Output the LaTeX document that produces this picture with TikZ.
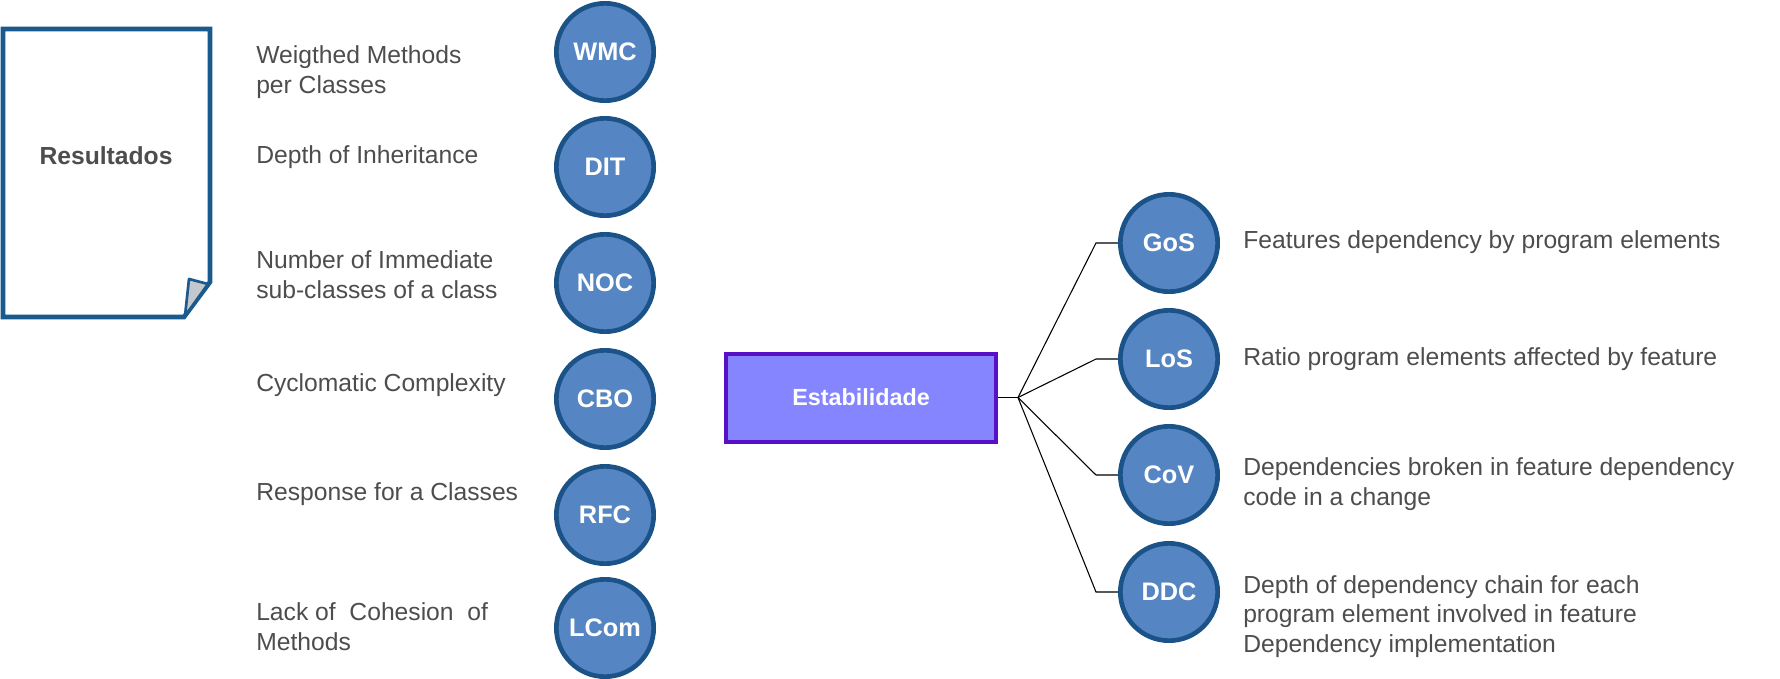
\documentclass[tikz,border=0pt]{standalone}
\usepackage{fontspec}
\setmainfont{Liberation Sans}
\definecolor{txtgray}{HTML}{4D4D4D}
\definecolor{circfill}{HTML}{5585C2}
\definecolor{circline}{HTML}{1B5389}
\definecolor{docline}{HTML}{1A5A8E}
\definecolor{estfill}{HTML}{8585FF}
\definecolor{estline}{HTML}{5810C6}
\definecolor{foldgray}{HTML}{C4C8CC}
\tikzset{
  metric/.style={circle, draw=circline, fill=circfill, line width=3.5pt,
    minimum size=73pt, inner sep=0pt, text=white,
    font=\fontsize{19}{22}\selectfont\bfseries},
  lbl/.style={anchor=base west, align=left, inner sep=0pt, text=txtgray,
    font=\fontsize{18.5}{22}\selectfont},
  estbox/.style={rectangle, draw=estline, fill=estfill, line width=3pt,
    minimum width=203pt, minimum height=66pt, inner sep=0pt, text=white,
    font=\fontsize{17.5}{21}\selectfont\bfseries},
  conn/.style={draw=black, line width=0.8pt}
}
\begin{document}
\begin{tikzpicture}[x=0.75pt, y=-0.75pt]
\useasboundingbox (0,0) rectangle (1780,678);
% document shape
\draw[docline, line width=3.5pt, fill=white, line join=miter]
  (3,29) -- (210,29) -- (210,282) -- (184,317) -- (3,317) -- cycle;
\draw[docline, line width=2pt, fill=foldgray, line join=round]
  (189,279) -- (208,284) -- (185,316) -- cycle;
\node[anchor=base, inner sep=0pt, text=txtgray, font=\fontsize{18.5}{22}\selectfont\bfseries] (res) at (106,164) {Resultados};

% left metrics
\node[metric] (wmc) at (605,52) {WMC};
\node[metric] (dit) at (605,167) {DIT};
\node[metric] (noc) at (605,283) {NOC};
\node[metric] (cbo) at (605,399) {CBO};
\node[metric] (rfc) at (605,515) {RFC};
\node[metric] (lcom) at (605,628) {LCom};

% (multi-line labels: base anchor is the last line's baseline)
\node[lbl] (lwmc) at (256,93) {Weigthed Methods\\per Classes};
\node[lbl] (ldit) at (256,163) {Depth of Inheritance};
\node[lbl] (lnoc) at (256,298) {Number of Immediate\\sub-classes of a class};
\node[lbl] (lcbo) at (256,391) {Cyclomatic Complexity};
\node[lbl] (lrfc) at (256,500) {Response for a Classes};
\node[lbl] (llcom) at (256,650) {Lack of~ Cohesion~ of\\Methods};

% right part
\node[estbox] (est) at (861,397.5) {Estabilidade};
\node[metric] (gos) at (1169,243) {GoS};
\node[metric] (los) at (1169,359) {LoS};
\node[metric] (cov) at (1169,475) {CoV};
\node[metric] (ddc) at (1169,592) {DDC};

\coordinate (j) at (1018,397.5);
\coordinate (bg) at (1096,243);
\coordinate (bl) at (1096,359);
\coordinate (bc) at (1096,475);
\coordinate (bd) at (1096,592);
\draw[conn] (est.east) -- (j);
\draw[conn] (j) -- (bg) -- (gos.west);
\draw[conn] (j) -- (bl) -- (los.west);
\draw[conn] (j) -- (bc) -- (cov.west);
\draw[conn] (j) -- (bd) -- (ddc.west);

\node[lbl] (lgos) at (1243,248) {Features dependency by program elements};
\node[lbl] (llos) at (1243,365) {Ratio program elements affected by feature};
\node[lbl] (lcov) at (1243,505) {Dependencies broken in feature dependency\\code in a change};
\node[lbl] (lddc) at (1243,652) {Depth of dependency chain for each\\program element involved in feature\\Dependency implementation};
\end{tikzpicture}
\end{document}
